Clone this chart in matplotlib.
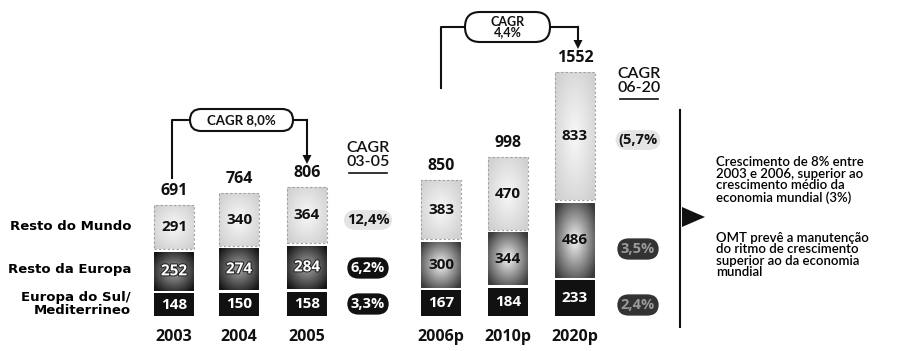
import numpy as np
import matplotlib
matplotlib.use("Agg")
import matplotlib.pyplot as plt
import matplotlib.patheffects as pe
from matplotlib.patches import FancyBboxPatch, Polygon

plt.rcParams['font.family'] = ['Lato', 'DejaVu Sans']
NUM = ['Open Sans', 'DejaVu Sans']   # fonte dos números

# dados (milhares de turistas)
anos = ['2003', '2004', '2005', '2006p', '2010p', '2020p']
sul_mediterraneo = [148, 150, 158, 167, 184, 233]
resto_europa = [252, 274, 284, 300, 344, 486]
resto_mundo = [291, 340, 364, 383, 470, 833]
totais = [691, 764, 806, 850, 998, 1552]
cagr_03_05 = ['12,4%', '6,2%', '3,3%']
cagr_06_20 = ['(5,7%', '3,5%', '2,4%']
cagr_periodos = ['CAGR 8,0%', 'CAGR\n4,4%']
series_nomes = ['Resto do Mundo', 'Resto da Europa', 'Europa do Sul/\nMediterrineo']
notas = ["Crescimento de 8% entre\n2003 e 2006, superior ao\ncrescimento médio da\neconomia mundial (3%)",
         "OMT prevê a manutenção\ndo ritmo de crescimento\nsuperior ao da economia\nmundial"]

W, H = 905, 351
fig = plt.figure(figsize=(W / 100, H / 100), dpi=100)

# eixo das barras: x em pixels, y em valores
escala = 6.5          # unidades por pixel
base_px = 316
gap = 2.5 * escala
axb = fig.add_axes([0, 0, 1, 1])
axb.axis('off')

# eixo de anotações em pixels
ax = fig.add_axes([0, 0, 1, 1])
ax.axis('off')
ax.set_xlim(0, W)
ax.set_ylim(H, 0)
ax.patch.set_alpha(0)

xs = [174, 239, 307, 441, 508, 575]
larg = 40


def gradiente(interior, exterior, n=60):
    yy, xx = np.mgrid[-1:1:n * 1j, -1:1:n * 1j]
    r = np.clip(np.sqrt(xx ** 2 + yy ** 2) / 1.3, 0, 1)[..., None]
    a = np.array(matplotlib.colors.to_rgb(interior))
    b = np.array(matplotlib.colors.to_rgb(exterior))
    return a * (1 - r) + b * r


def pinta(barras, interior, exterior):
    for p in barras:
        x0, y0, w, h = p.get_x(), p.get_y(), p.get_width(), p.get_height()
        im = axb.imshow(gradiente(interior, exterior), extent=[x0, x0 + w, y0, y0 + h],
                        aspect='auto', interpolation='bilinear', zorder=2)
        im.set_clip_path(p)


b1 = np.array(sul_mediterraneo, dtype=float)
b2 = b1 + gap
b3 = b2 + np.array(resto_europa) + gap

barras_sul = axb.bar(xs, sul_mediterraneo, width=larg, color='#111111', zorder=2)
barras_eur = axb.bar(xs, resto_europa, bottom=b2, width=larg, color='#555555', zorder=1)
barras_mun = axb.bar(xs, resto_mundo, bottom=b3, width=larg, color='none',
                     edgecolor='#a0a0a0', linestyle=(0, (2, 2)), linewidth=0.8, zorder=3)
barras_mun_fundo = axb.bar(xs, resto_mundo, bottom=b3, width=larg, color='#e6e6e6', zorder=1)

pinta(barras_eur[:3], '#a5a5a5', '#151515')
pinta(barras_eur[3:], '#f5f5f5', '#3a3a3a')
pinta(barras_mun_fundo, '#f8f8f8', '#d0d0d0')

fs_val = 11
for i, x in enumerate(xs):
    axb.text(x, sul_mediterraneo[i] / 2, str(sul_mediterraneo[i]), ha='center', va='center',
             color='white', fontsize=fs_val, fontweight='bold', family=NUM, zorder=5)
    ye = b2[i] + resto_europa[i] / 2
    if i < 3:
        axb.text(x, ye, str(resto_europa[i]), ha='center', va='center', color='white',
                 fontsize=fs_val, fontweight='bold', family=NUM, zorder=5,
                 path_effects=[pe.withStroke(linewidth=1.5, foreground='#222222')])
    else:
        axb.text(x, ye, str(resto_europa[i]), ha='center', va='center', color='#111111',
                 fontsize=fs_val, fontweight='bold', family=NUM, zorder=5)
    axb.text(x, b3[i] + resto_mundo[i] / 2, str(resto_mundo[i]), ha='center', va='center',
             color='#111111', fontsize=fs_val, fontweight='bold', family=NUM, zorder=5)
    axb.text(x, b3[i] + resto_mundo[i] + 6 * escala, str(totais[i]), ha='center', va='bottom',
             color='#111111', fontsize=11.5, fontweight='bold', family=NUM, zorder=5)

axb.set_xlim(0, W)
axb.set_ylim(-(H - base_px) * escala, base_px * escala)

# anos
for x, a in zip(xs, anos):
    ax.text(x, 337, a, ha='center', va='center', fontsize=11.5, fontweight='bold',
            family=NUM, color='#111111')

# nomes das séries
ax.text(131, 226, series_nomes[0], ha='right', va='center', fontsize=9.5, fontweight='bold',
        family='DejaVu Sans')
ax.text(131, 270, series_nomes[1], ha='right', va='center', fontsize=9.5, fontweight='bold',
        family='DejaVu Sans')
ax.text(131, 304, series_nomes[2], ha='right', va='center', fontsize=9.5, fontweight='bold',
        family='DejaVu Sans', multialignment='right', linespacing=1.0)

# cabeçalhos CAGR
for xc, y0, txt in [(368, 155, 'CAGR\n03-05'), (639, 81, 'CAGR\n06-20')]:
    ax.text(xc, y0, txt, ha='center', va='center', fontsize=11.5, color='#111111',
            fontweight='semibold', linespacing=0.95)
    ax.plot([xc - 19, xc + 19], [y0 + 18, y0 + 18], color='#111111', lw=1.2)

# valores CAGR 03-05
ax.text(368, 220, cagr_03_05[0], ha='center', va='center', fontsize=10.5, fontweight='bold',
        family=NUM, color='#111111',
        bbox=dict(boxstyle='round,pad=0.2,rounding_size=0.8', fc='#e4e4e4', ec='none'))
for y, t in zip([268, 304], cagr_03_05[1:]):
    ax.text(368, y, t, ha='center', va='center', fontsize=10.5, fontweight='bold', family=NUM,
            color='white', bbox=dict(boxstyle='round,pad=0.25,rounding_size=0.8', fc='#111111', ec='none'))

# valores CAGR 06-20
ax.text(638, 140, cagr_06_20[0], ha='center', va='center', fontsize=10.5, fontweight='bold',
        family=NUM, color='#111111',
        bbox=dict(boxstyle='round,pad=0.2,rounding_size=0.8', fc='#e4e4e4', ec='none'))
for y, t in zip([249, 305], cagr_06_20[1:]):
    ax.text(638, y, t, ha='center', va='center', fontsize=10.5, fontweight='bold', family=NUM,
            color='#9a9a9a', bbox=dict(boxstyle='round,pad=0.25,rounding_size=0.8', fc='#333333', ec='none'))

# chavetas de crescimento
lw = 1.5


def pilula(x0, x1, y0, y1, txt, fs):
    ax.add_patch(FancyBboxPatch((x0, y0), x1 - x0, y1 - y0,
                                boxstyle='round,pad=0,rounding_size=%g' % ((y1 - y0) / 2),
                                fc='white', ec='#111111', lw=lw, zorder=4))
    ax.text((x0 + x1) / 2, (y0 + y1) / 2, txt, ha='center', va='center', fontsize=fs,
            fontweight='bold', color='#111111', linespacing=0.9, zorder=5)


def seta(x, y_topo, y_ponta):
    ax.plot([x, x], [y_topo, y_ponta - 7], color='#111111', lw=lw)
    ax.add_patch(Polygon([[x - 4.5, y_ponta - 9], [x + 4.5, y_ponta - 9], [x, y_ponta]],
                         closed=True, fc='#111111', ec='none'))


ax.plot([172, 172, 190], [178, 120, 120], color='#111111', lw=lw)
ax.plot([293, 307], [120, 120], color='#111111', lw=lw)
seta(307, 120, 164)
pilula(190, 293, 109, 131, cagr_periodos[0], 9.5)

ax.plot([441, 441, 465], [88, 27, 27], color='#111111', lw=lw)
ax.plot([550, 578], [27, 27], color='#111111', lw=lw)
seta(578, 27, 49)
pilula(465, 550, 12, 42, cagr_periodos[1], 9)

# separador e seta para as notas
ax.plot([680, 680], [110, 327], color='#111111', lw=1.5)
ax.add_patch(Polygon([[682, 207], [682, 227], [705, 217]], closed=True, fc='#111111', ec='none'))

ax.text(716, 180, notas[0], ha='left', va='center', fontsize=9.5, color='black',
        fontweight='semibold', linespacing=0.95)
ax.text(716, 255, notas[1], ha='left', va='center', fontsize=9.5, color='black',
        fontweight='semibold', linespacing=0.95)

fig.savefig('out.png', dpi=100, facecolor='white')
